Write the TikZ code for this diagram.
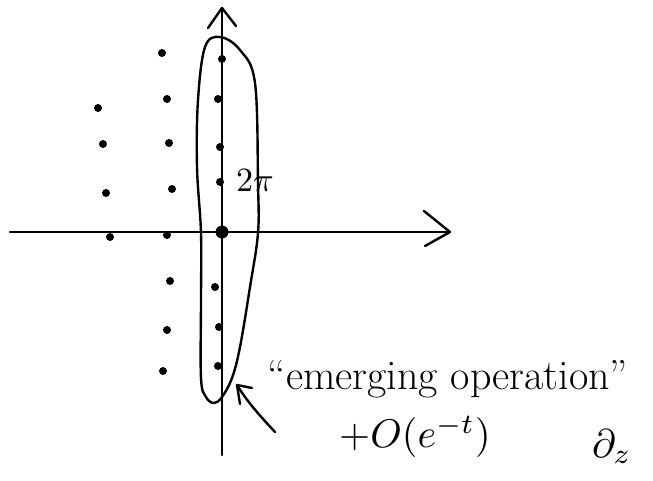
\documentclass[tikz,border=0pt]{standalone}
\usepackage{graphicx}
\usetikzlibrary{arrows.meta}
\begin{document}
\begin{tikzpicture}[x=1pt,y=-1pt,
  pen/.style={line width=2.4pt,line cap=round,line join=round},
  pt/.style={circle,fill=black,inner sep=0pt,minimum size=8pt},
  bigpt/.style={circle,fill=black,inner sep=0pt,minimum size=13pt},
  hand/.style={font=\fontsize{42}{48}\selectfont,inner sep=0pt}]
\useasboundingbox (0,0) rectangle (653,480);
% axes
\coordinate (xl) at (10,232);
\coordinate (xr) at (450,232);
\coordinate (yb) at (222,455);
\coordinate (yt) at (222,8);
\draw[pen] (xl) -- (xr);
\draw[pen] (yb) -- (yt);
\coordinate (xa1) at (424,211);
\coordinate (xa2) at (425,246);
\draw[pen] (xa1) -- (xr) -- (xa2);
\coordinate (ya1) at (208,28);
\coordinate (ya2) at (236,26);
\draw[pen] (ya1) -- (yt) -- (ya2);
% dots on imaginary axis
\node[bigpt] (o) at (222,232) {};
\node[pt] (a1) at (222,59) {};
\node[pt] (a2) at (218,99) {};
\node[pt] (a3) at (220,147) {};
\node[pt] (a4) at (220,182) {};
\node[pt] (a5) at (215,287) {};
\node[pt] (a6) at (219,327) {};
\node[pt] (a7) at (218,366) {};
% second column
\node[pt] (b1) at (162,53) {};
\node[pt] (b2) at (167,99) {};
\node[pt] (b3) at (169,143) {};
\node[pt] (b4) at (172,189) {};
\node[pt] (b5) at (167,235) {};
\node[pt] (b6) at (170,281) {};
\node[pt] (b7) at (167,330) {};
\node[pt] (b8) at (163,371) {};
% third column
\node[pt] (c1) at (98,108) {};
\node[pt] (c2) at (103,144) {};
\node[pt] (c3) at (106,193) {};
\node[pt] (c4) at (110,237) {};
% loop
\draw[pen] plot[smooth cycle,tension=0.6] coordinates {
 (220,37) (240,50) (255,83) (258,183) (258,233) (250,287) (240,347)
 (232,378) (222,397) (214,403) (206,397) (201,378) (201,300) (201,233)
 (197,167) (198,100) (205,47)};
% 2pi label
\node[inner sep=0pt,anchor=west] (tp) at (236,181) {\scalebox{3.4}{$2\pi$}};
% text
\node[hand] (em) at (448,379) {``emerging operation''};
\node[inner sep=0pt] (big) at (415,437) {\scalebox{4}{$+O(e^{-t})$}};
\node[inner sep=0pt] (dz) at (612,447) {\scalebox{4}{$\partial_z$}};
% arrow to loop
\coordinate (at) at (237,385);
\coordinate (tail) at (275,432);
\draw[pen] (tail) .. controls (262,418) and (248,403) .. (at);
\coordinate (ah1) at (240,404);
\coordinate (ah2) at (252,388);
\draw[pen] (ah1) -- (at) -- (ah2);
\end{tikzpicture}
\end{document}
